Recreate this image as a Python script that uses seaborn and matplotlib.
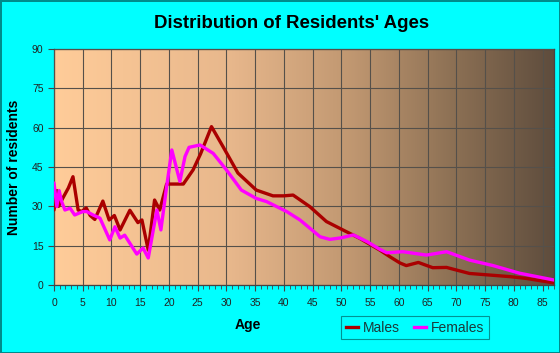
import numpy as np
import pandas as pd
import matplotlib
matplotlib.use('Agg')
import matplotlib.pyplot as plt
import seaborn as sns
from matplotlib.colors import LinearSegmentedColormap
from matplotlib.lines import Line2D
from matplotlib.ticker import MultipleLocator

# Values
male_ages = [0, 0.5, 0.8, 1.5, 2.5, 3.3, 4.2, 4.8, 5.6, 6.3, 7.1, 8.5, 9.6, 10.5,
             11.5, 13.2, 14.6, 15.3, 16.4, 17.5, 18.4, 19.6, 21, 22.5, 24.2, 25.5,
             27.4, 29.4, 32, 35.2, 38.1, 40, 41.6, 44.5, 47.4, 50.9, 53.2, 56.7,
             58.5, 60.2, 61.3, 63.4, 65.9, 68.3, 72.3, 79.3, 82.2, 87]
males = [28.6, 36, 30, 33, 37, 41.3, 28.6, 28, 29.4, 26.5, 25, 32, 24.8, 26.5,
         21, 28.5, 23.8, 24.8, 13.3, 32.4, 28.6, 38.5, 38.5, 38.5, 43.9, 50,
         60.4, 52.8, 42.7, 36.2, 34, 34, 34.3, 29.9, 24.2, 20.3, 17.8, 13.3,
         10.7, 8.4, 7.4, 8.6, 6.6, 6.7, 4.4, 3.2, 2.5, 0.8]

female_ages = [0, 0.5, 0.9, 1.3, 1.9, 2.8, 3.6, 5.0, 5.7, 6.8, 8.0, 9.7, 10.6,
               11.5, 12.3, 14.4, 15.5, 16.4, 17.9, 18.6, 19.6, 20.5, 21.9, 22.8,
               23.5, 25.4, 27.7, 30, 32.6, 35.2, 37, 40.5, 42.8, 46.3, 48, 50,
               52.1, 54.5, 56.7, 57.9, 60.7, 64.8, 68.3, 72.3, 76.4, 81, 87]
females = [38.9, 29.9, 36, 32, 28.6, 29.3, 26.7, 28, 28, 26.7, 25.5, 17.2, 22.2,
           17.9, 19, 11.8, 14.1, 10.3, 28.6, 21, 37.5, 51.5, 39.5, 49,
           52.5, 53.4, 50.2, 43.9, 36.2, 33, 31.8, 28, 24.8, 18.4, 17.4, 18,
           19.1, 16.5, 13.6, 12.3, 12.7, 11.4, 12.7, 9.5, 7.4, 4.5, 1.9]

series_names = ['Males', 'Females']
series_colors = ['#aa0000', '#ff00ff']
x_ticks = list(range(0, 90, 5))
y_ticks = list(range(0, 91, 15))

df = pd.concat([
    pd.DataFrame({'Age': male_ages, 'Residents': males, 'Sex': 'Males'}),
    pd.DataFrame({'Age': female_ages, 'Residents': females, 'Sex': 'Females'}),
], ignore_index=True)

plt.rcParams['font.family'] = ['Liberation Sans', 'DejaVu Sans']

fig = plt.figure(figsize=(5.6, 3.53), dpi=100, facecolor='#00ffff',
                 edgecolor='#008b8b', linewidth=2)
ax = fig.add_axes([54 / 560, 68 / 353, 500 / 560, 236 / 353])

# background gradient, peach to dark brown
bg = LinearSegmentedColormap.from_list('bg', [
    (0.0, (1.0, 0.80, 0.60)),
    (0.35, (0.91, 0.72, 0.55)),
    (0.6, (0.75, 0.59, 0.44)),
    (0.8, (0.55, 0.44, 0.33)),
    (1.0, (0.37, 0.30, 0.24)),
])
ax.imshow(np.linspace(0, 1, 256).reshape(1, -1), cmap=bg, aspect='auto',
          extent=[0, 87, 0, 90], zorder=0)

sns.lineplot(data=df, x='Age', y='Residents', hue='Sex', hue_order=series_names,
             palette=series_colors, linewidth=2.4, legend=False, ax=ax,
             sort=False, estimator=None, zorder=3)
for ln in ax.get_lines():
    ln.set_solid_joinstyle('round')
    ln.set_solid_capstyle('round')

ax.set_xlim(0, 87)
ax.set_ylim(0, 90)
ax.set_xticks(x_ticks)
ax.set_yticks(y_ticks)
ax.xaxis.set_minor_locator(MultipleLocator(1))
ax.grid(True, which='major', color='#55504a', linewidth=0.8, zorder=1)
ax.set_axisbelow(False)
for s in ax.spines.values():
    s.set_color('#444444')
    s.set_linewidth(0.9)
ax.tick_params(axis='both', which='major', direction='out', length=4,
               color='#444444', labelsize=7.5, labelcolor='#222222', width=0.8)
ax.tick_params(axis='x', which='minor', direction='out', length=3,
               color='#444444', width=0.6)
ax.tick_params(axis='x', pad=5)

ax.set_xlabel('Age', fontsize=10, fontweight='bold')
ax.xaxis.set_label_coords((248 - 54) / 500, -0.14)
ax.set_ylabel('Number of residents', fontsize=10, fontweight='bold', labelpad=8)

fig.text(292 / 560, 1 - 23 / 353, "Distribution of Residents' Ages",
         ha='center', va='center', fontsize=13.4, fontweight='bold')

handles = [Line2D([0], [0], color=c, linewidth=2.4) for c in series_colors]
leg = fig.legend(handles, series_names, loc='center',
                 bbox_to_anchor=(415 / 560, 1 - 327.5 / 353), ncol=2,
                 frameon=True, fancybox=False, edgecolor='#007878',
                 facecolor='#00ffff', fontsize=10, handlelength=0.9,
                 handletextpad=0.35, columnspacing=1.0, borderpad=0.35)
leg.get_frame().set_linewidth(0.8)
for t in leg.get_texts():
    t.set_color('#1a3a3a')

fig.savefig('out.png', dpi=100, facecolor=fig.get_facecolor(),
            edgecolor=fig.get_edgecolor())
